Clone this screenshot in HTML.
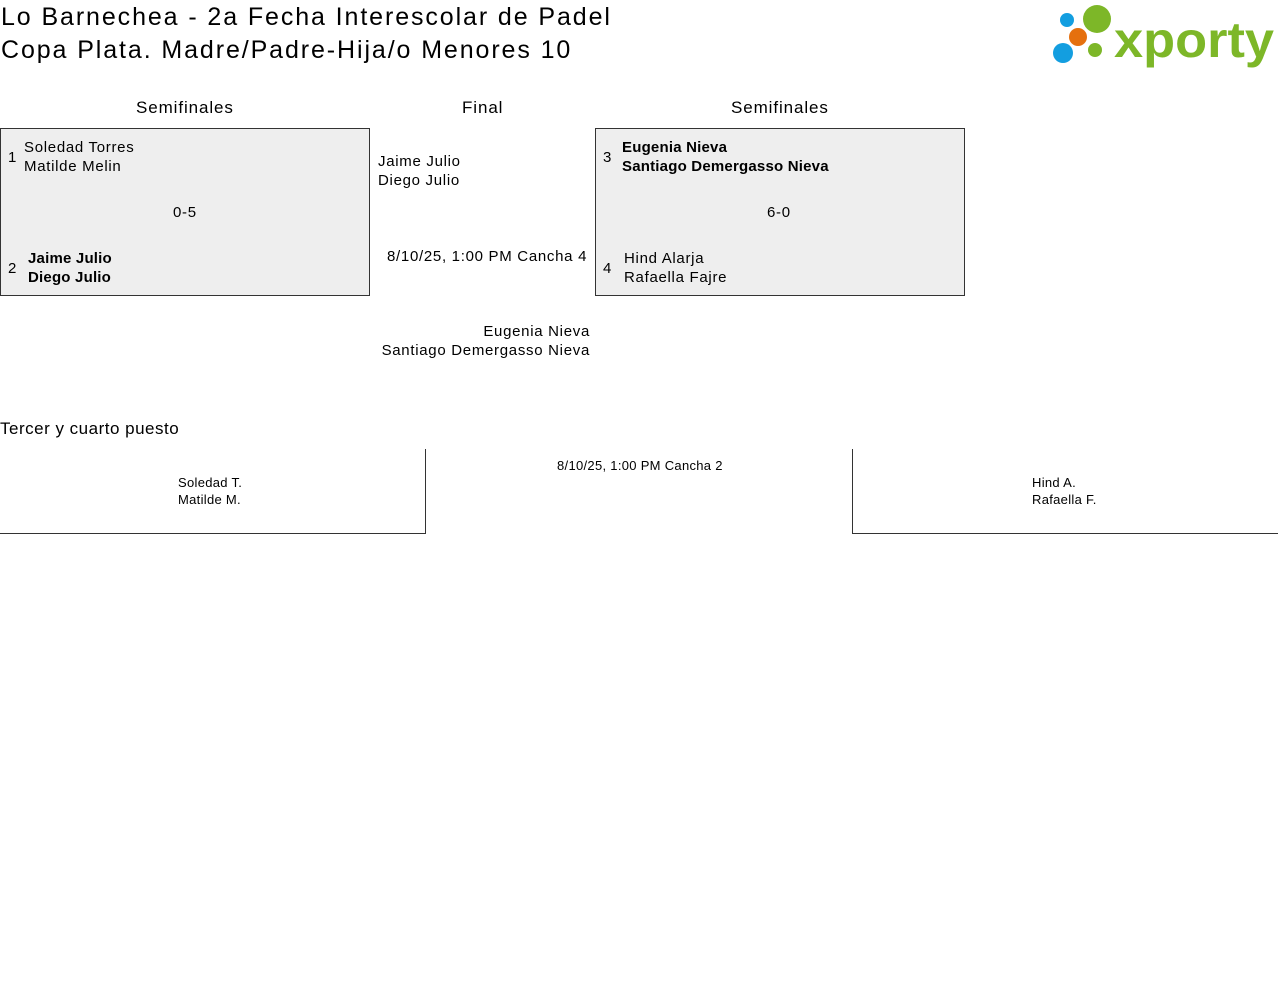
<!DOCTYPE html>
<html><head><meta charset="utf-8"><style>
body{margin:0;width:1280px;height:1000px;background:#fff;font-family:"Liberation Sans",sans-serif;color:#000;position:relative;overflow:hidden}
.a{position:absolute;white-space:nowrap}
.t{font-size:25px;letter-spacing:1.9px}
.h{font-size:17px;letter-spacing:0.9px}
.n{font-size:15px;line-height:19px;letter-spacing:0.7px}
.b{font-weight:bold;letter-spacing:0.2px}
.box{position:absolute;background:#eee;border:1px solid #333;box-sizing:border-box}
.s{font-size:13px;line-height:17px;letter-spacing:0.3px}
</style></head><body>
<div class="a t" style="left:1px;top:3px">Lo Barnechea - 2a Fecha Interescolar de Padel</div>
<div class="a t" style="left:1px;top:36px">Copa Plata. Madre/Padre-Hija/o Menores 10</div>
<svg class="a" style="left:1040px;top:0" width="240" height="75">
<circle cx="27" cy="20" r="7" fill="#139ee0"/>
<circle cx="57" cy="19" r="14" fill="#7db728"/>
<circle cx="38" cy="37" r="9" fill="#e5700e"/>
<circle cx="23" cy="53" r="10" fill="#139ee0"/>
<circle cx="55" cy="50" r="7" fill="#7db728"/>
<text x="74" y="57" font-family="Liberation Sans,sans-serif" font-weight="bold" font-size="50" fill="#7db728" textLength="160" lengthAdjust="spacingAndGlyphs">xporty</text>
</svg>
<div class="a h" style="left:136px;top:98px">Semifinales</div>
<div class="a h" style="left:462px;top:98px">Final</div>
<div class="a h" style="left:731px;top:98px">Semifinales</div>
<div class="box" style="left:0;top:128px;width:370px;height:168px"></div>
<div class="a n" style="left:8px;top:148px">1</div>
<div class="a n" style="left:24px;top:138px">Soledad Torres<br>Matilde Melin</div>
<div class="a n" style="left:173px;top:203px">0-5</div>
<div class="a n" style="left:8px;top:259px">2</div>
<div class="a n b" style="left:28px;top:249px">Jaime Julio<br>Diego Julio</div>
<div class="box" style="left:595px;top:128px;width:370px;height:168px"></div>
<div class="a n" style="left:603px;top:148px">3</div>
<div class="a n b" style="left:622px;top:138px">Eugenia Nieva<br>Santiago Demergasso Nieva</div>
<div class="a n" style="left:767px;top:203px">6-0</div>
<div class="a n" style="left:603px;top:259px">4</div>
<div class="a n" style="left:624px;top:249px">Hind Alarja<br>Rafaella Fajre</div>
<div class="a n" style="left:378px;top:152px">Jaime Julio<br>Diego Julio</div>
<div class="a n" style="left:387px;top:247px">8/10/25, 1:00 PM Cancha 4</div>
<div class="a n" style="left:370px;top:322px;text-align:right;width:220px">Eugenia Nieva<br>Santiago Demergasso Nieva</div>
<div class="a h" style="left:0;top:419px;letter-spacing:0.5px">Tercer y cuarto puesto</div>
<div class="a" style="left:0;top:533px;width:426px;border-top:1px solid #333"></div>
<div class="a" style="left:425px;top:449px;height:85px;border-left:1px solid #333"></div>
<div class="a" style="left:852px;top:533px;width:426px;border-top:1px solid #333"></div>
<div class="a" style="left:852px;top:449px;height:85px;border-left:1px solid #333"></div>
<div class="a s" style="left:178px;top:474px">Soledad T.<br>Matilde M.</div>
<div class="a s" style="left:557px;top:457px">8/10/25, 1:00 PM Cancha 2</div>
<div class="a s" style="left:1032px;top:474px">Hind A.<br>Rafaella F.</div>
</body></html>
